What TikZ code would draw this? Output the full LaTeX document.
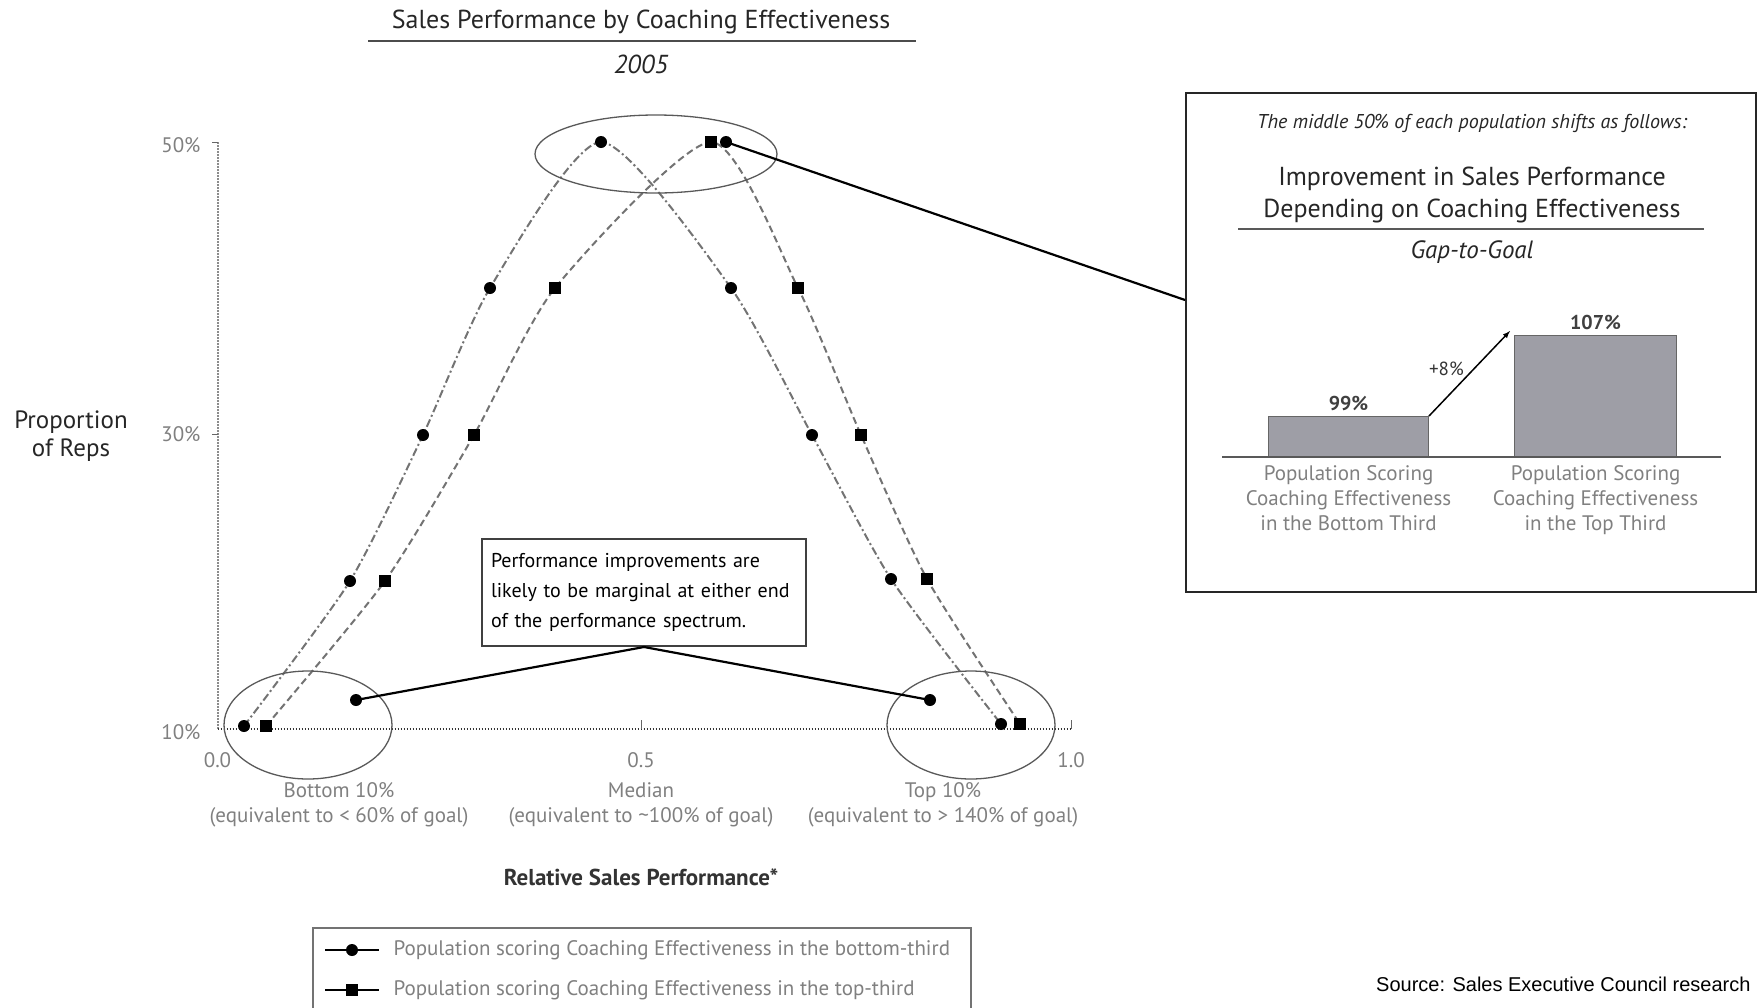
\documentclass[tikz,border=0pt]{standalone}
\usepackage{fontspec}
\setmainfont{PT Sans}
\newfontfamily\srcfont{Liberation Sans}
\usetikzlibrary{positioning,arrows}
\definecolor{barfill}{RGB}{158,158,166}

\begin{document}
\begin{tikzpicture}[x=1pt,y=-1pt,
  bdot/.style={circle,fill=black,inner sep=0pt,minimum size=12pt},
  tsq/.style={rectangle,fill=black,inner sep=0pt,minimum size=12pt},
  bcurve/.style={black!55,line width=2pt,dash pattern=on 8pt off 3pt on 2pt off 3pt},
  tcurve/.style={black!55,line width=2pt,dash pattern=on 7pt off 4pt},
  ring/.style={black!65,line width=1.3pt},
  link/.style={black,line width=2.2pt},
  greytxt/.style={text=black!50,font=\fontsize{21}{25}\selectfont,align=center},
  bar/.style={draw=black!60,fill=barfill,line width=1pt,inner sep=0pt,anchor=south west}]
\clip (0,0) rectangle (1758,1007);

% title
\node[font=\fontsize{26}{28}\selectfont,text=black!85] (title) at (641,22) {Sales Performance by Coaching Effectiveness};
\draw[black!70,line width=1.5pt] (368,41) -- (916,41);
\node[font=\fontsize{26}{28}\selectfont\itshape,text=black!85] (year) at (641,64) {2005};

% axes
\draw[black!45,line width=2pt,dash pattern=on 1.5pt off 1.5pt] (217.5,142) -- (217.5,729);
\draw[black!80,line width=2pt,dash pattern=on 1.5pt off 1.5pt] (217.5,729) -- (1071,729);
\draw[black!60,line width=1pt] (212,142) -- (217.5,142) (212,434) -- (217.5,434)
  (641,720) -- (641,729) (1071,720) -- (1071,729);
\node[greytxt,anchor=east] (y50) at (204,145) {50\%};
\node[greytxt,anchor=east] (y30) at (204,434) {30\%};
\node[greytxt,anchor=east] (y10) at (204,732) {10\%};
\node[greytxt] (x0) at (217.5,760) {0.0};
\node[greytxt] (x5) at (641,760) {0.5};
\node[greytxt] (x1) at (1071,760) {1.0};
\node[greytxt] (cbot) at (339,805) {Bottom 10\%\\(equivalent to < 60\% of goal)};
\node[greytxt] (cmed) at (641,805) {Median\\(equivalent to \textasciitilde100\% of goal)};
\node[greytxt] (ctop) at (943,805) {Top 10\%\\(equivalent to > 140\% of goal)};
\node[font=\fontsize{23}{25}\selectfont\bfseries,text=black!80] (xlab) at (641,877) {Relative Sales Performance*};
\node[font=\fontsize{25}{28}\selectfont,text=black!85,align=center] (ylab) at (71,436) {Proportion\\of Reps};

% bottom-third population
\foreach \px/\py [count=\i] in {244/726, 350/581, 423/435, 490/288, 601/142, 731/288, 812/435, 891/579, 1001/724}
  \coordinate (b\i) at (\px,\py);
\draw[bcurve] plot[smooth,tension=.4] coordinates {(b1) (b2) (b3) (b4) (b5) (b6) (b7) (b8) (b9)};
% top-third population
\foreach \px/\py [count=\i] in {266/726, 385/581, 474/435, 555/288, 711/142, 798/288, 861/435, 927/579, 1020/724}
  \coordinate (t\i) at (\px,\py);
\draw[tcurve] plot[smooth,tension=.4] coordinates {(t1) (t2) (t3) (t4) (t5) (t6) (t7) (t8) (t9)};
\foreach \i in {1,...,9} {
  \node[bdot] (bm\i) at (b\i) {};
  \node[tsq] (tm\i) at (t\i) {};
}

% highlight rings
\draw[ring] (656,154) ellipse [x radius=121, y radius=39];
\draw[ring] (308,725) ellipse [x radius=84, y radius=54];
\draw[ring] (971,725) ellipse [x radius=84, y radius=54];

% callout
\node[draw=black!75,line width=2pt,fill=white,anchor=north west,text width=306pt,minimum height=107pt,
  inner sep=9pt,align=left,font=\fontsize{20}{30}\selectfont] (callout) at (481,538)
  {Performance improvements are likely to be marginal at either end of the performance spectrum.};
\node[bdot] (lpin) at (356,700) {};
\node[bdot] (rpin) at (930,700) {};
\draw[link] (callout.south) -- (lpin.center);
\draw[link] (callout.south) -- (rpin.center);

% right panel
\node[draw=black!85,line width=2.2pt,minimum width=570pt,minimum height=499pt,anchor=north west,inner sep=0pt] (panel) at (1185,92) {};
\node[bdot] (tpin) at (726,142) {};
\coordinate (thit) at (1185,300);
\draw[link] (tpin.center) -- (thit);
\node[font=\fontsize{20}{22}\selectfont\itshape,text=black!85] (hdr) at (1472,123) {The middle 50\% of each population shifts as follows:};
\node[font=\fontsize{26}{32}\selectfont,align=center,text=black!85] (impr) at (1472,195) {Improvement in Sales Performance\\Depending on Coaching Effectiveness};
\draw[black!65,line width=1.5pt] (1238,229) -- (1704,229);
\node[font=\fontsize{25}{27}\selectfont\itshape,text=black!85] (gap) at (1472,252) {Gap-to-Goal};
\node[bar,minimum width=160pt,minimum height=40pt] (bar1) at (1268,457) {};
\node[bar,minimum width=162pt,minimum height=121pt] (bar2) at (1514,457) {};
\draw[black!65,line width=2pt] (1222,457) -- (1721,457);
\node[above=2pt of bar1,font=\fontsize{20}{22}\selectfont\bfseries,text=black!75] (v1) {99\%};
\node[above=2pt of bar2,font=\fontsize{20}{22}\selectfont\bfseries,text=black!75] (v2) {107\%};
\draw[-latex,line width=1.5pt] (bar1.north east) -- ([xshift=-4pt,yshift=4pt]bar2.north west)
  node[pos=.45,above left,inner sep=1pt,font=\fontsize{19}{21}\selectfont,text=black!80] (gain) {+8\%};
\node[greytxt,below=5pt of bar1,font=\fontsize{21}{25}\selectfont] (lb1) {Population Scoring\\Coaching Effectiveness\\in the Bottom Third};
\node[greytxt,below=5pt of bar2,font=\fontsize{21}{25}\selectfont] (lb2) {Population Scoring\\Coaching Effectiveness\\in the Top Third};

% legend
\draw[black!55,line width=1.5pt] (313,928) rectangle (971,1020);
\node[anchor=west,text=black!50,font=\fontsize{21}{23}\selectfont] (leg1) at (390,950) {Population scoring Coaching Effectiveness in the bottom-third};
\node[anchor=west,text=black!50,font=\fontsize{21}{23}\selectfont] (leg2) at (390,990) {Population scoring Coaching Effectiveness in the top-third};
\coordinate (la1) at (325,950);
\coordinate (la2) at (325,990);
\draw[line width=2pt] (la1) -- ([xshift=-11pt]leg1.west) node[midway,bdot] (lm1) {};
\draw[line width=2pt] (la2) -- ([xshift=-11pt]leg2.west) node[midway,tsq] (lm2) {};

% source
\node[anchor=east,font=\srcfont\fontsize{20}{22}\selectfont] (src) at (1754,984) {Source: Sales Executive Council research};
\end{tikzpicture}
\end{document}
